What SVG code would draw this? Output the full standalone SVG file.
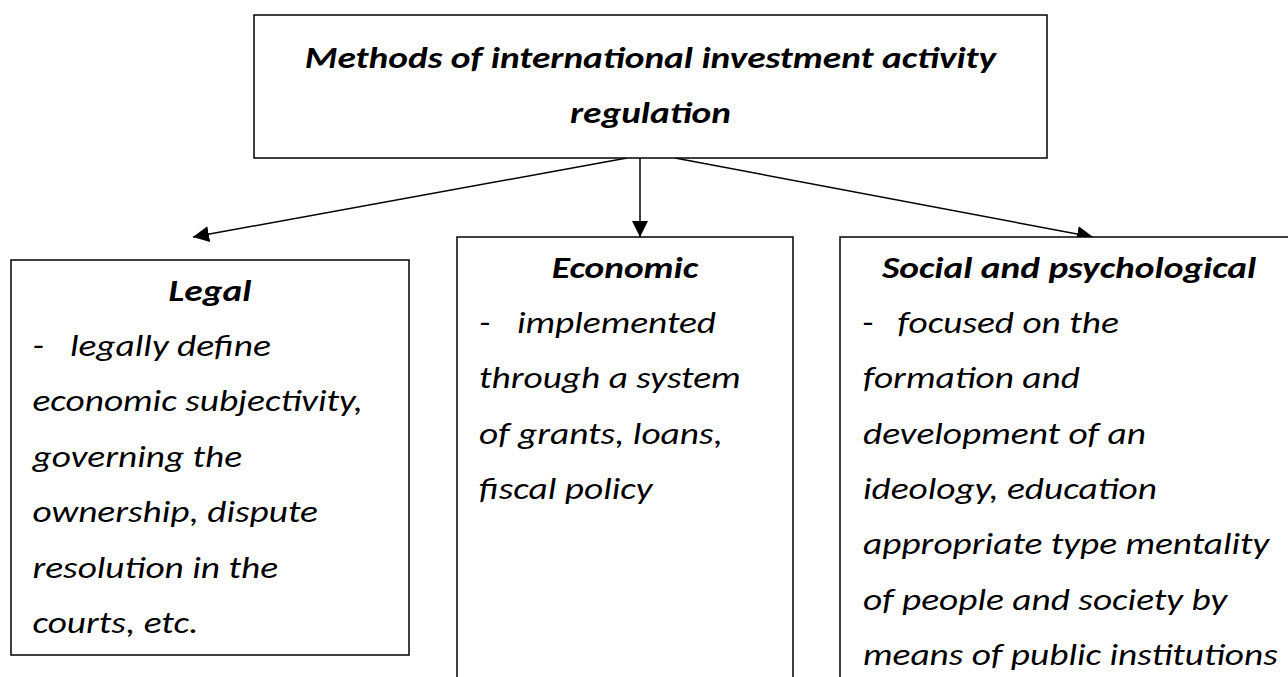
<svg xmlns="http://www.w3.org/2000/svg" width="1288" height="677" viewBox="0 0 1288 677">
<defs>
<style>
.box{fill:#fff;stroke:#000;stroke-width:1.5}
.t{font-family:Carlito,"Open Sans","Liberation Sans",sans-serif;font-style:italic;font-size:30.5px;fill:#000}
.b{font-weight:bold}
.c{stroke:#000;stroke-width:1.5;fill:none}
</style>
<marker id="ah" viewBox="0 0 16 16" refX="16" refY="8" markerWidth="16" markerHeight="16" markerUnits="userSpaceOnUse" orient="auto">
<path d="M0,0 L16,8 L0,16 z" fill="#000"/>
</marker>
</defs>
<rect width="1288" height="677" fill="#fff"/>
<g id="connectors">
<line class="c" x1="627" y1="158" x2="193" y2="237" marker-end="url(#ah)"/>
<line class="c" x1="640" y1="158" x2="640" y2="237" marker-end="url(#ah)"/>
<line class="c" x1="675" y1="158" x2="1093" y2="237" marker-end="url(#ah)"/>
</g>
<g id="top">
<rect class="box" x="254" y="15" width="793" height="143"/>
<g transform="scale(1.225 1)">
<text class="t b" x="531" y="68" text-anchor="middle">Methods of international investment activity</text>
<text class="t b" x="531" y="123" text-anchor="middle">regulation</text>
</g>
</g>
<g id="legal">
<rect class="box" x="11" y="260" width="398" height="395"/>
<g transform="scale(1.225 1)">
<text class="t b" x="171.4" y="301" text-anchor="middle">Legal</text>
<text class="t" y="356"><tspan x="26.5">-</tspan><tspan x="57.1">legally define</tspan></text>
<text class="t" x="26.5" y="411.5">economic subjectivity,</text>
<text class="t" x="26.5" y="467">governing the</text>
<text class="t" x="26.5" y="522.5">ownership, dispute</text>
<text class="t" x="26.5" y="578">resolution in the</text>
<text class="t" x="26.5" y="633.5">courts, etc.</text>
</g>
</g>
<g id="economic">
<rect class="box" x="457" y="237" width="336" height="460"/>
<g transform="scale(1.225 1)">
<text class="t b" x="510.2" y="278" text-anchor="middle">Economic</text>
<text class="t" y="333"><tspan x="391">-</tspan><tspan x="422">implemented</tspan></text>
<text class="t" x="391" y="388.5">through a system</text>
<text class="t" x="391" y="444">of grants, loans,</text>
<text class="t" x="391" y="499">fiscal policy</text>
</g>
</g>
<g id="social">
<rect class="box" x="840" y="237" width="460" height="460"/>
<g transform="scale(1.225 1)">
<text class="t b" x="872.7" y="278" text-anchor="middle">Social and psychological</text>
<text class="t" y="333"><tspan x="703.7">-</tspan><tspan x="732.7">focused on the</tspan></text>
<text class="t" x="704.5" y="388.5">formation and</text>
<text class="t" x="704.5" y="444">development of an</text>
<text class="t" x="704.5" y="499">ideology, education</text>
<text class="t" x="704.5" y="554.5">appropriate type mentality</text>
<text class="t" x="704.5" y="610">of people and society by</text>
<text class="t" x="704.5" y="665">means of public institutions</text>
</g>
</g>
</svg>
